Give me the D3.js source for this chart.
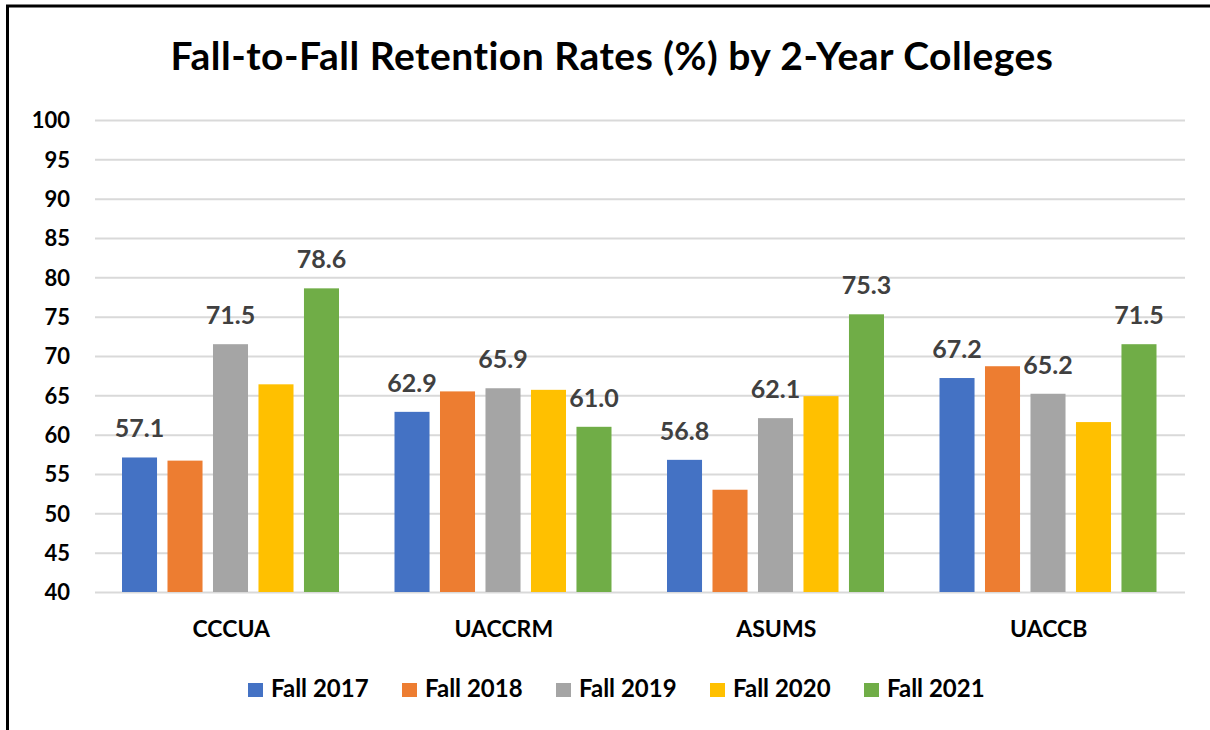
<!DOCTYPE html>
<html>
<head>
<meta charset="utf-8">
<script src="https://cdn.jsdelivr.net/npm/d3@7/dist/d3.min.js"></script>
<style>
  body { margin: 0; background: #fff; }
  text { font-family: Lato, "Open Sans", sans-serif; font-weight: bold; }
</style>
</head>
<body>
<div id="chart"></div>
<script>
// Chart data
var colleges = ['CCCUA', 'UACCRM', 'ASUMS', 'UACCB'];
var terms = ['Fall 2017', 'Fall 2018', 'Fall 2019', 'Fall 2020', 'Fall 2021'];
var fall2017 = [57.1, 62.9, 56.8, 67.2];
var fall2018 = [56.7, 65.5, 53.0, 68.7];
var fall2019 = [71.5, 65.9, 62.1, 65.2];
var fall2020 = [66.4, 65.7, 64.9, 61.6];
var fall2021 = [78.6, 61.0, 75.3, 71.5];
var yTicks = [40, 45, 50, 55, 60, 65, 70, 75, 80, 85, 90, 95, 100];
// only every other series carries value labels in the original
var labelled = ['Fall 2017', 'Fall 2019', 'Fall 2021'];

var seriesValues = [fall2017, fall2018, fall2019, fall2020, fall2021];
var colors = ['#4472c4', '#ed7d31', '#a5a5a5', '#ffc000', '#70ad47'];

var width = 1210;
var height = 730;
var margins = { left: 95, right: 25, top: 120, bottom: 138 };
var plotW = width - margins.left - margins.right;
var plotH = height - margins.top - margins.bottom;

var svg = d3.select('#chart').append('svg')
            .attr('width', width)
            .attr('height', height);

// Outer frame (only left and top edges fall inside the picture)
svg.append('rect')
   .attr('x', 7.5).attr('y', 6)
   .attr('width', width + 20).attr('height', height + 20)
   .attr('fill', 'none')
   .attr('stroke', '#000')
   .attr('stroke-width', 3);

svg.append('text')
   .attr('x', 612).attr('y', 70)
   .attr('text-anchor', 'middle')
   .style('font-size', '39px')
   .style('letter-spacing', '0.5px')
   .style('fill', '#000')
   .text('Fall-to-Fall Retention Rates (%) by 2-Year Colleges');

var x0 = d3.scaleBand().domain(colleges).range([0, plotW]).padding(0);
var x1 = d3.scaleBand().domain(terms).range([27, 244]).paddingInner(0.23).paddingOuter(0);
var y = d3.scaleLinear().domain([40, 100]).range([plotH, 0]);

var g = svg.append('g')
           .attr('transform', 'translate(' + margins.left + ',' + margins.top + ')');

// Grid lines
var yAxis = d3.axisLeft(y)
              .tickValues(yTicks)
              .tickSizeInner(-plotW)
              .tickSizeOuter(0)
              .tickPadding(25)
              .tickFormat(d3.format('d'));

var yg = g.append('g').call(yAxis);
yg.select('.domain').remove();
yg.selectAll('.tick line').attr('stroke', '#d9d9d9').attr('stroke-width', 2);
yg.selectAll('.tick text')
  .style('font-size', '22px')
  .style('fill', '#000')
  .attr('dy', '0.36em');

// Category axis
var xAxis = d3.axisBottom(x0).tickSize(0).tickPadding(29);
var xg = g.append('g').attr('transform', 'translate(0,' + plotH + ')').call(xAxis);
xg.select('.domain').remove();
xg.selectAll('.tick text')
  .style('font-size', '23px')
  .style('fill', '#000');

// Bars
var rows = colleges.map(function(c, i) {
  return terms.map(function(t, j) {
    return { college: c, term: t, value: seriesValues[j][i], color: colors[j] };
  });
});

var groups = g.selectAll('g.college')
              .data(rows)
              .enter().append('g')
              .attr('class', 'college')
              .attr('transform', function(d, i) { return 'translate(' + x0(colleges[i]) + ',0)'; });

groups.selectAll('rect')
      .data(function(d) { return d; })
      .enter().append('rect')
      .attr('x', function(d) { return x1(d.term); })
      .attr('y', function(d) { return y(d.value); })
      .attr('width', x1.bandwidth())
      .attr('height', function(d) { return plotH - y(d.value); })
      .attr('fill', function(d) { return d.color; });

groups.selectAll('text.value')
      .data(function(d) { return d.filter(function(e) { return labelled.indexOf(e.term) >= 0; }); })
      .enter().append('text')
      .attr('class', 'value')
      .attr('x', function(d) { return x1(d.term) + x1.bandwidth() / 2; })
      .attr('y', function(d) { return y(d.value) - 20; })
      .attr('text-anchor', 'middle')
      .style('font-size', '25px')
      .style('fill', '#404040')
      .text(function(d) { return d.value.toFixed(1); });

// Legend
var legend = svg.append('g').attr('transform', 'translate(248,683)');
var item = legend.selectAll('g')
                 .data(terms)
                 .enter().append('g')
                 .attr('transform', function(d, i) { return 'translate(' + (i * 154) + ',0)'; });
item.append('rect')
    .attr('width', 15).attr('height', 14)
    .attr('fill', function(d, i) { return colors[i]; });
item.append('text')
    .attr('x', 23).attr('y', 14)
    .style('font-size', '24px')
    .style('fill', '#000')
    .text(function(d) { return d; });
</script>
</body>
</html>
